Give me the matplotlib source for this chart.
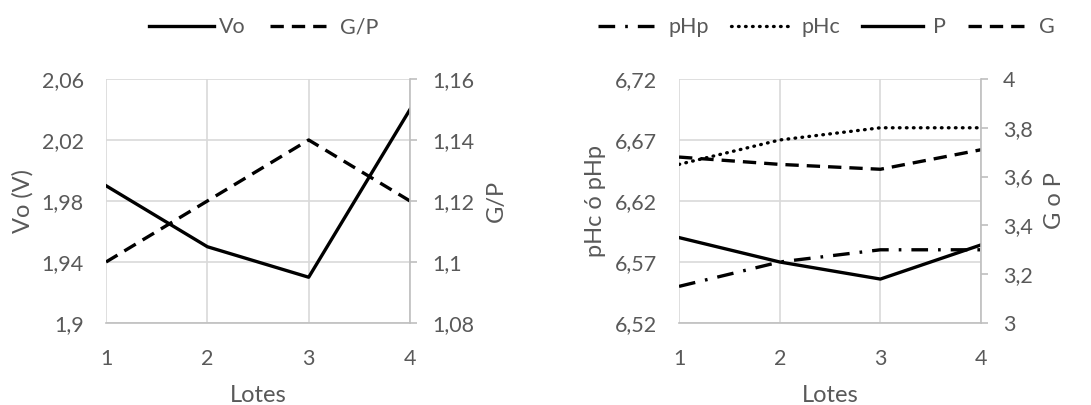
import matplotlib
matplotlib.use("Agg")
import matplotlib.pyplot as plt
from matplotlib.ticker import FixedLocator, FuncFormatter
from matplotlib.lines import Line2D

plt.rcParams['font.family'] = ['Lato', 'DejaVu Sans']

# Data
lotes = [1, 2, 3, 4]
vo = [1.99, 1.95, 1.93, 2.04]
g_p = [1.10, 1.12, 1.14, 1.12]
php = [6.55, 6.57, 6.58, 6.58]
phc = [6.65, 6.67, 6.68, 6.68]
p_vals = [3.35, 3.25, 3.18, 3.32]
g_vals = [3.68, 3.65, 3.63, 3.71]

vo_ticks = [1.9, 1.94, 1.98, 2.02, 2.06]
gp_ticks = [1.08, 1.1, 1.12, 1.14, 1.16]
ph_ticks = [6.52, 6.57, 6.62, 6.67, 6.72]
gop_ticks = [3, 3.2, 3.4, 3.6, 3.8, 4]

TXT = '#595959'
GRID = '#d9d9d9'
SPINE = '#bfbfbf'
FS = 15.5
LFS = 17
LW = 2.4

SOLID = '-'
DASHED = (0, (4, 2.4))
DASHDOT = (0, (5, 3, 0.8, 3))
DOTTED = (0, (0.2, 1.9))


def comma_fmt(v, pos):
    return ('%g' % round(v, 4)).replace('.', ',')


def style_pair(ax, ax2, xlabel, ylabel, y2label, yt, y2t):
    ax.set_xlim(1, 4)
    ax.set_xticks(lotes)
    ax.set_ylim(yt[0], yt[-1])
    ax.yaxis.set_major_locator(FixedLocator(yt))
    ax.yaxis.set_major_formatter(FuncFormatter(comma_fmt))
    ax2.set_ylim(y2t[0], y2t[-1])
    ax2.yaxis.set_major_locator(FixedLocator(y2t))
    ax2.yaxis.set_major_formatter(FuncFormatter(comma_fmt))
    ax.grid(True, color=GRID, linewidth=1.2)
    ax.set_axisbelow(True)
    for s in ['top', 'left']:
        ax.spines[s].set_visible(False)
        ax2.spines[s].set_visible(False)
    ax.spines['right'].set_visible(False)
    ax.spines['bottom'].set_color(SPINE)
    ax.spines['bottom'].set_linewidth(1.2)
    ax2.spines['bottom'].set_visible(False)
    ax2.spines['right'].set_color(SPINE)
    ax2.spines['right'].set_linewidth(1.2)
    ax.tick_params(axis='y', length=0, labelsize=FS, labelcolor=TXT, pad=16)
    ax.tick_params(axis='x', length=0, labelsize=FS, labelcolor=TXT, pad=19)
    ax2.tick_params(axis='y', length=5, width=1.2, color=SPINE,
                    labelsize=FS, labelcolor=TXT, pad=11)
    ax.set_xlabel(xlabel, fontsize=LFS, color=TXT, labelpad=11)
    ax.set_ylabel(ylabel, fontsize=LFS, color=TXT, labelpad=6)
    ax2.set_ylabel(y2label, fontsize=LFS, color=TXT, labelpad=8,
                   rotation=90)


def handle(style):
    return Line2D([], [], color='black', linewidth=LW, linestyle=style,
                  dash_capstyle='round' if style is DOTTED else 'butt')


fig = plt.figure(figsize=(10.91, 4.05), dpi=100)

# Left panel: Vo and G/P
axL = fig.add_axes([0.0972, 0.2025, 0.2786, 0.6025])
axL2 = axL.twinx()
axL.plot(lotes, vo, color='black', linewidth=LW, linestyle=SOLID)
axL2.plot(lotes, g_p, color='black', linewidth=LW, linestyle=DASHED)
style_pair(axL, axL2, 'Lotes', 'Vo (V)', 'G/P', vo_ticks, gp_ticks)

fig.legend([handle(SOLID), handle(DASHED)], ['Vo', 'G/P'],
           loc='center left', ncol=2, bbox_to_anchor=(0.137, 0.933),
           frameon=False, fontsize=FS, labelcolor=TXT, handlelength=3.0,
           handletextpad=0.25, columnspacing=1.1, borderpad=0,
           borderaxespad=0)

# Right panel: pH values and G or P
axR = fig.add_axes([0.6224, 0.2025, 0.2768, 0.6025])
axR2 = axR.twinx()
axR.plot(lotes, php, color='black', linewidth=LW, linestyle=DASHDOT)
axR.plot(lotes, phc, color='black', linewidth=LW, linestyle=DOTTED,
         dash_capstyle='round')
axR2.plot(lotes, p_vals, color='black', linewidth=LW, linestyle=SOLID)
axR2.plot(lotes, g_vals, color='black', linewidth=LW, linestyle=DASHED)
style_pair(axR, axR2, 'Lotes', 'pHc ó pHp', 'G o P', ph_ticks, gop_ticks)

fig.legend([handle(DASHDOT), handle(DOTTED), handle(SOLID), handle(DASHED)],
           ['pHp', 'pHc', 'P', 'G'], loc='center left', ncol=4,
           bbox_to_anchor=(0.548, 0.933), frameon=False, fontsize=FS,
           labelcolor=TXT, handlelength=2.8, handletextpad=0.5,
           columnspacing=1.0, borderpad=0, borderaxespad=0)

fig.savefig('out.png', dpi=100, facecolor='white')
